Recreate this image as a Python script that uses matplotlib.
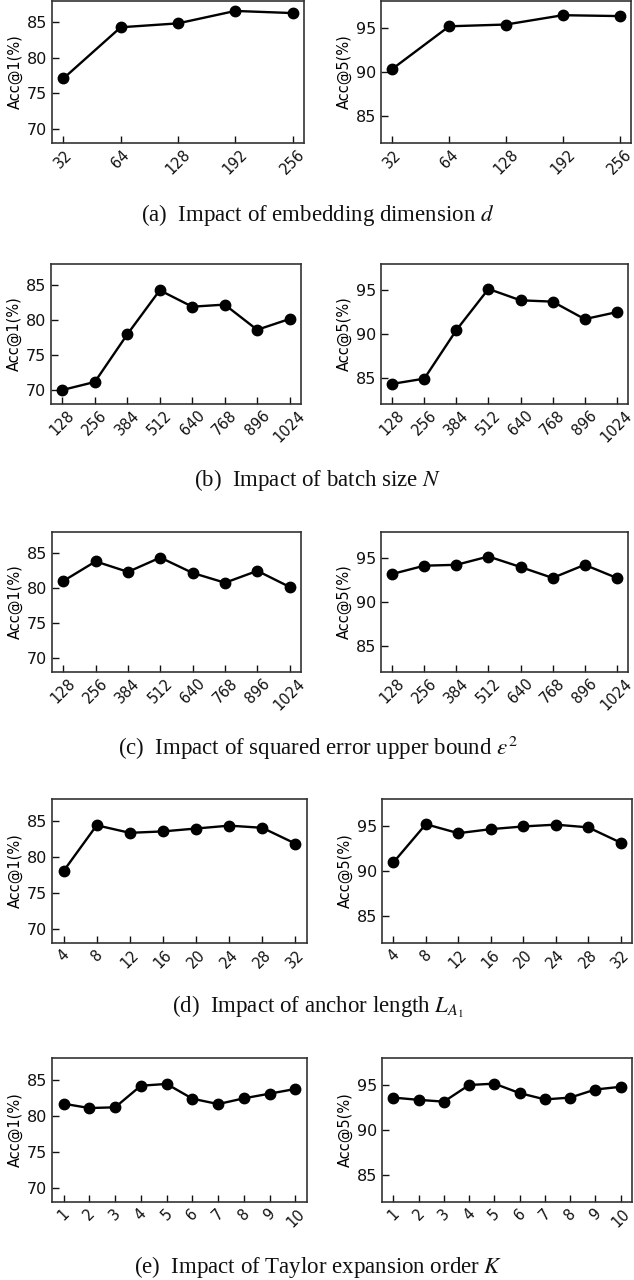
import matplotlib
matplotlib.use("Agg")
import matplotlib.pyplot as plt

# ---- data ----
dims = ["32", "64", "128", "192", "256"]
dims_acc1 = [77.1, 84.3, 84.85, 86.6, 86.3]
dims_acc5 = [90.35, 95.15, 95.35, 96.4, 96.3]

batch = ["128", "256", "384", "512", "640", "768", "896", "1024"]
batch_acc1 = [70.0, 71.15, 77.95, 84.25, 81.9, 82.2, 78.6, 80.15]
batch_acc5 = [84.3, 84.9, 90.45, 95.15, 93.85, 93.7, 91.7, 92.5]

eps = ["128", "256", "384", "512", "640", "768", "896", "1024"]
eps_acc1 = [81.0, 83.8, 82.3, 84.35, 82.15, 80.75, 82.45, 80.15]
eps_acc5 = [93.2, 94.15, 94.25, 95.2, 94.0, 92.75, 94.25, 92.75]

anchor = ["4", "8", "12", "16", "20", "24", "28", "32"]
anchor_acc1 = [78.0, 84.35, 83.3, 83.5, 83.9, 84.3, 84.0, 81.8]
anchor_acc5 = [90.95, 95.2, 94.2, 94.65, 94.95, 95.15, 94.85, 93.15]

taylor = ["1", "2", "3", "4", "5", "6", "7", "8", "9", "10"]
taylor_acc1 = [81.65, 81.05, 81.15, 84.15, 84.4, 82.35, 81.6, 82.4, 83.05, 83.7]
taylor_acc5 = [93.6, 93.35, 93.15, 95.0, 95.15, 94.1, 93.4, 93.6, 94.5, 94.8]

captions = [
    r"(a)  Impact of embedding dimension $d$",
    r"(b)  Impact of batch size $N$",
    r"(c)  Impact of squared error upper bound $\epsilon^2$",
    r"(d)  Impact of anchor length $L_{A_1}$",
    r"(e)  Impact of Taylor expansion order $K$",
]

rows = [
    (dims, dims_acc1, dims_acc5),
    (batch, batch_acc1, batch_acc5),
    (eps, eps_acc1, eps_acc5),
    (anchor, anchor_acc1, anchor_acc5),
    (taylor, taylor_acc1, taylor_acc5),
]

# ---- layout (pixels) ----
W, H = 634, 1280
left_rects = [(52, 1, 304, 143), (51, 264, 301, 404), (52, 532, 301, 672),
              (52, 799, 307, 943), (52, 1058, 307, 1202)]
right_rects = [(381, 1, 631, 143), (381, 264, 628, 404), (381, 532, 628, 672),
               (382, 799, 632, 943), (382, 1058, 632, 1202)]
caption_y = [215, 480, 748, 1007, 1267]

plt.rcParams["mathtext.fontset"] = "stix"
plt.rcParams["font.family"] = ["DejaVu Sans"]

fig = plt.figure(figsize=(W / 100, H / 100), dpi=100)


def add_ax(rect):
    l, t, r, b = rect
    return fig.add_axes([l / W, 1 - b / H, (r - l) / W, (b - t) / H])


def style(ax, ylim, yticks, ylabel, labels):
    ax.set_ylim(*ylim)
    ax.set_yticks(yticks)
    ax.set_xticks(range(len(labels)))
    ax.set_xticklabels(labels, rotation=45, ha="center")
    ax.tick_params(direction="in", length=5, width=1, colors="#111111")
    ax.tick_params(axis="y", labelsize=11.5)
    ax.tick_params(axis="x", labelsize=10.5, pad=3)
    for s in ax.spines.values():
        s.set_color("#333333")
        s.set_linewidth(1.2)
    ax.set_ylabel(ylabel, fontsize=10.5, labelpad=3, family="DejaVu Sans")


for i, (labels, a1, a5) in enumerate(rows):
    axl = add_ax(left_rects[i])
    x = list(range(len(labels)))
    axl.plot(x, a1, "-o", color="black", lw=1.7, markersize=7.5)
    style(axl, (68, 88), [70, 75, 80, 85], "Acc@1(%)", labels)

    axr = add_ax(right_rects[i])
    axr.plot(x, a5, "-o", color="black", lw=1.7, markersize=7.5)
    style(axr, (82, 98), [85, 90, 95], "Acc@5(%)", labels)

    fig.text(0.5 + 1 / W, 1 - caption_y[i] / H, captions[i], ha="center", va="center",
             fontsize=16.5, family="Liberation Serif", color="#111111")

fig.savefig("out.png", dpi=100)
